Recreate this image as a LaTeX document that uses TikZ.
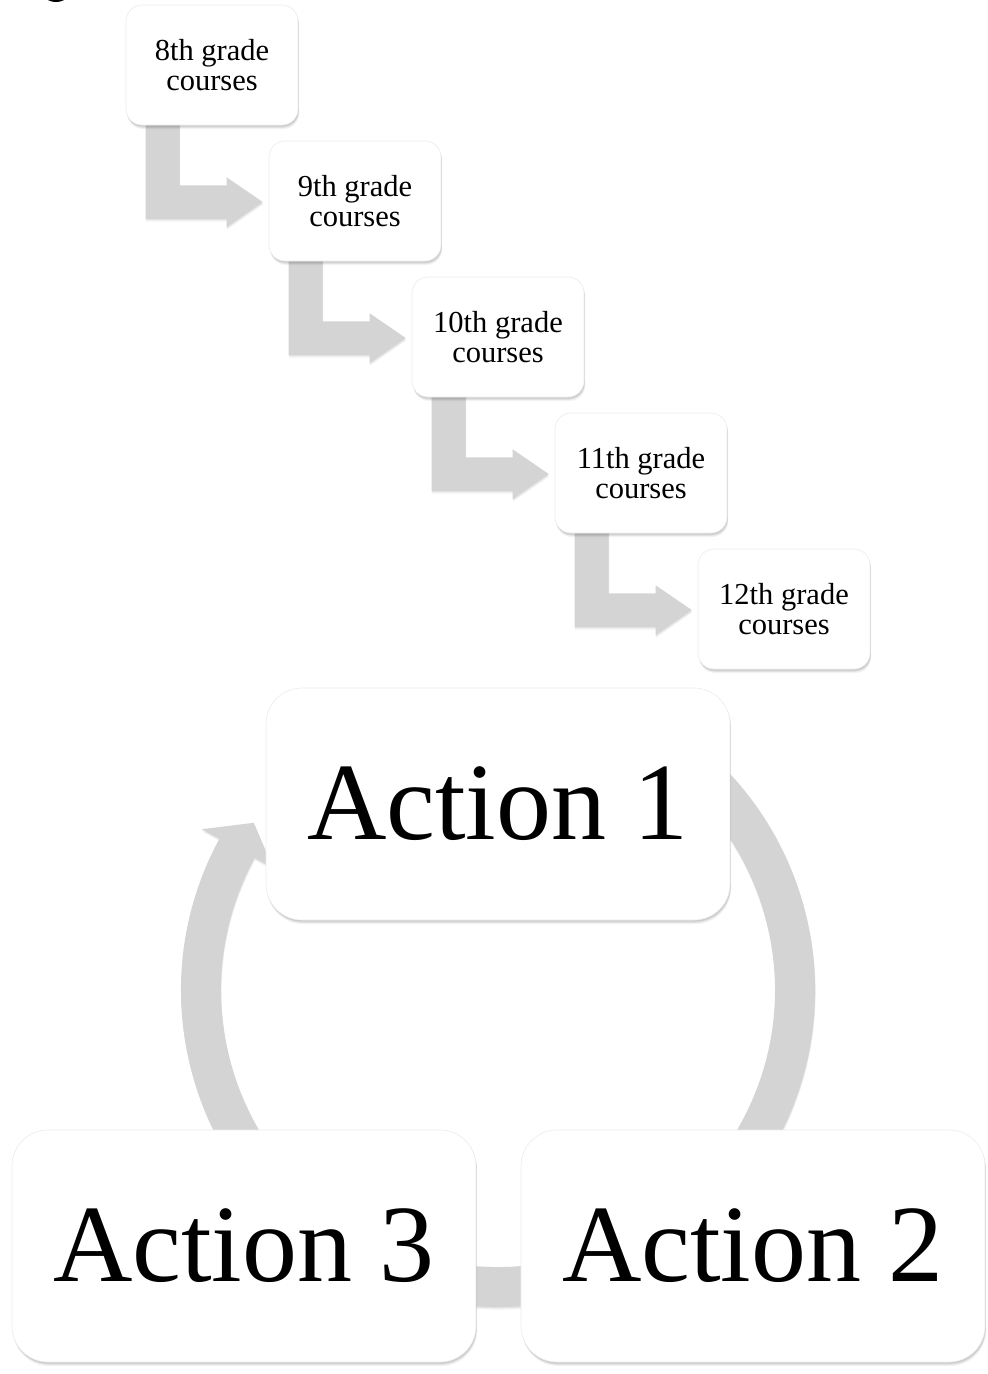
\documentclass[tikz,border=0pt]{standalone}
\usepackage{fontspec}
\setmainfont{Liberation Serif}
\usetikzlibrary{calc,shadows}
\definecolor{ringgray}{RGB}{212,212,212}
\definecolor{boxline}{RGB}{236,236,236}
\pgfdeclarelayer{paper}
\pgfdeclarelayer{bg}
\pgfsetlayers{paper,bg,main}
\tikzset{
  softshadow/.style={
    general shadow={fill=black, opacity=0.05, shadow xshift=1.2pt, shadow yshift=-4pt},
    general shadow={fill=black, opacity=0.07, shadow xshift=0.9pt, shadow yshift=-2.8pt},
    general shadow={fill=black, opacity=0.09, shadow xshift=0.6pt, shadow yshift=-1.6pt}},
  gradebox/.style={draw=boxline, line width=0.6pt, fill=white, rounded corners=16pt,
    minimum width=172pt, minimum height=120pt, inner sep=0pt, align=center,
    font=\fontsize{30.5}{30}\selectfont, softshadow},
  actionbox/.style={draw=boxline, line width=0.6pt, fill=white, rounded corners=36pt,
    minimum width=464pt, minimum height=232pt, inner sep=0pt, align=center,
    font=\fontsize{110}{120}\selectfont, softshadow},
  flowshape/.style={fill=ringgray,
    general shadow={fill=black, opacity=0.05, shadow xshift=0.5pt, shadow yshift=-2.5pt},
    general shadow={fill=black, opacity=0.06, shadow xshift=0.3pt, shadow yshift=-1.2pt}}
}
\begin{document}
\begin{tikzpicture}[x=1pt,y=1pt]
\useasboundingbox (0,0) rectangle (988,-1374);
\begin{pgfonlayer}{paper}
\fill[white] (0,0) rectangle (988,-1374);
\end{pgfonlayer}
% fragment at the top-left edge
\fill[black] (56,3) ellipse [x radius=10, y radius=5];

% grade boxes
\node[gradebox] (g8)  at (212,-65)  {8th grade\\courses};
\node[gradebox] (g9)  at (355,-201) {9th grade\\courses};
\node[gradebox] (g10) at (498,-337) {10th grade\\courses};
\node[gradebox] (g11) at (641,-473) {11th grade\\courses};
\node[gradebox] (g12) at (784,-609) {12th grade\\courses};

% action boxes
\node[actionbox] (a1) at (498,-804)  {Action 1};
\node[actionbox] (a3) at (244,-1246) {Action 3};
\node[actionbox] (a2) at (753,-1246) {Action 2};
\coordinate (ringc) at (498,-990);

\begin{pgfonlayer}{bg}
  \foreach \a/\b in {g8/g9, g9/g10, g10/g11, g11/g12}{
    \fill[flowshape] ($(\a.south west)+(20,20)$) -- ++(34,0) -- ++(0,-80) -- ++(47,0) -- ++(0,8)
      -- ($(\b.west)+(-6,-1)$) -- ++(-36,-25) -- ++(0,8) -- ++(-81,0) -- cycle;
  }
  \fill[flowshape] ([shift={(ringc)}]60:317) arc[start angle=60, end angle=-208.5, radius=317]
    -- ([shift={(ringc)}]151.5:337) -- ([shift={(ringc)}]145.6:296)
    -- ([shift={(ringc)}]151.5:256) -- ([shift={(ringc)}]151.5:277)
    arc[start angle=-208.5, end angle=60, radius=277] -- cycle;
\end{pgfonlayer}
\end{tikzpicture}
\end{document}
